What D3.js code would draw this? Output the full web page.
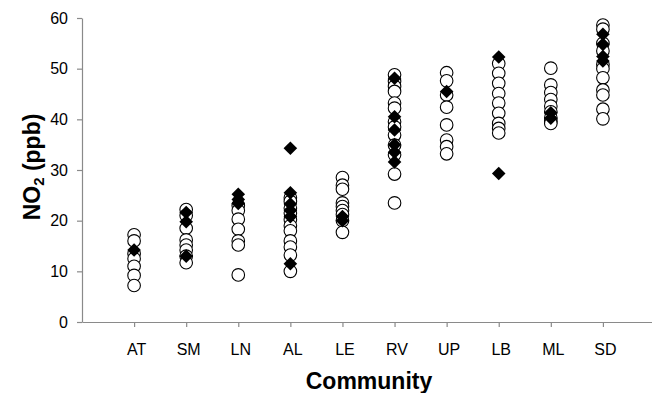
<!DOCTYPE html>
<html>
<head>
<meta charset="utf-8">
<script src="https://cdn.jsdelivr.net/npm/d3@7/dist/d3.min.js"></script>
<style>
  html, body { margin: 0; padding: 0; background: #fff; }
  svg { display: block; font-family: "Liberation Sans", Arial, sans-serif; }
</style>
</head>
<body>
<svg id="chart" width="652" height="393"></svg>
<script>
// Communities along the x axis
const communities = ["AT", "SM", "LN", "AL", "LE", "RV", "UP", "LB", "ML", "SD"];

// NO2 (ppb) measured at each site, open-circle series
const circleValues = [
  [17.2, 16.0, 13.5, 12.5, 11.0, 9.2, 7.2],
  [22.2, 21.0, 18.5, 16.2, 15.2, 14.2, 13.0, 11.7],
  [23.0, 22.0, 20.3, 18.3, 16.0, 15.2, 9.3],
  [24.5, 23.8, 22.5, 21.5, 20.2, 19.0, 18.0, 16.0, 14.8, 13.2, 10.0],
  [28.5, 27.0, 26.2, 23.5, 22.8, 22.0, 21.2, 20.0, 17.7],
  [48.8, 47.5, 46.5, 45.5, 43.2, 42.2, 39.5, 38.5, 36.9, 34.9, 33.0, 29.2, 23.5],
  [49.2, 47.6, 44.8, 42.4, 38.9, 35.9, 34.6, 33.2],
  [51.0, 49.1, 47.1, 45.1, 43.2, 41.2, 39.2, 38.2, 37.3],
  [50.1, 46.8, 45.3, 43.9, 42.6, 41.5, 40.3, 39.6, 39.2],
  [58.6, 57.8, 55.0, 53.5, 50.8, 50.0, 48.2, 45.8, 44.8, 42.0, 40.1]
];

// NO2 (ppb), filled-diamond series
const diamondValues = [
  [14.2],
  [21.6, 19.8, 13.0],
  [25.2, 24.2, 23.4],
  [34.3, 25.5, 23.3, 22.0, 20.8, 11.5],
  [20.8, 20.0],
  [48.1, 40.5, 37.9, 35.0, 33.5, 31.6],
  [45.5],
  [52.3, 29.3],
  [41.3, 40.2],
  [56.8, 54.8, 52.4, 51.5]
];

const yTicks = [0, 10, 20, 30, 40, 50, 60];

const svg = d3.select("#chart");
const axisColor = "#8a8a8a";

const x = d3.scaleLinear().domain([0, communities.length + 1]).range([82, 655]);
const y = d3.scaleLinear().domain([0, 60]).range([322, 18]);

// Flatten per-community arrays into point records
const toPoints = arr => arr.flatMap((vals, i) => vals.map(v => ({ pos: i + 1, v })));
const circlePts = toPoints(circleValues);
const diamondPts = toPoints(diamondValues);

// Axes
const yAxis = d3.axisLeft(y).tickValues(yTicks).tickSize(5).tickSizeOuter(0).tickPadding(9);
const gy = svg.append("g").attr("transform", "translate(82,0)").call(yAxis);

const xAxis = d3.axisBottom(x)
  .tickValues(d3.range(1, communities.length + 1))
  .tickFormat(d => communities[d - 1])
  .tickSize(5).tickSizeOuter(0).tickPadding(17);
const gx = svg.append("g").attr("transform", "translate(0,322)").call(xAxis);

[gx, gy].forEach(g => {
  g.select(".domain").attr("stroke", axisColor).attr("stroke-width", 1.2);
  g.selectAll(".tick line").attr("stroke", axisColor).attr("stroke-width", 1.2);
  g.selectAll(".tick text").attr("fill", "#000").style("font-size", "16px")
    .style("font-family", "'Liberation Sans', Arial, sans-serif");
});
gx.selectAll(".tick text").attr("dx", 2);

// Open circles
svg.append("g").selectAll("circle").data(circlePts).join("circle")
  .attr("cx", d => x(d.pos))
  .attr("cy", d => y(d.v))
  .attr("r", 6.3)
  .attr("fill", "#fff")
  .attr("stroke", "#000")
  .attr("stroke-width", 1.1);

// Filled diamonds
svg.append("g").selectAll("path").data(diamondPts).join("path")
  .attr("transform", d => `translate(${x(d.pos)},${y(d.v)})`)
  .attr("d", "M0,-6.8L6.8,0L0,6.8L-6.8,0Z")
  .attr("fill", "#000");

// Axis titles
const yTitle = svg.append("text")
  .attr("transform", "translate(40,167) rotate(-90)")
  .attr("text-anchor", "middle")
  .style("font-size", "23px").style("font-weight", "bold");
yTitle.append("tspan").text("NO");
yTitle.append("tspan").attr("dy", 4).style("font-size", "15px").text("2");
yTitle.append("tspan").attr("dy", -4).text(" (ppb)");

svg.append("text")
  .attr("x", 369).attr("y", 389)
  .attr("text-anchor", "middle")
  .style("font-size", "23px").style("font-weight", "bold")
  .text("Community");
</script>
</body>
</html>
